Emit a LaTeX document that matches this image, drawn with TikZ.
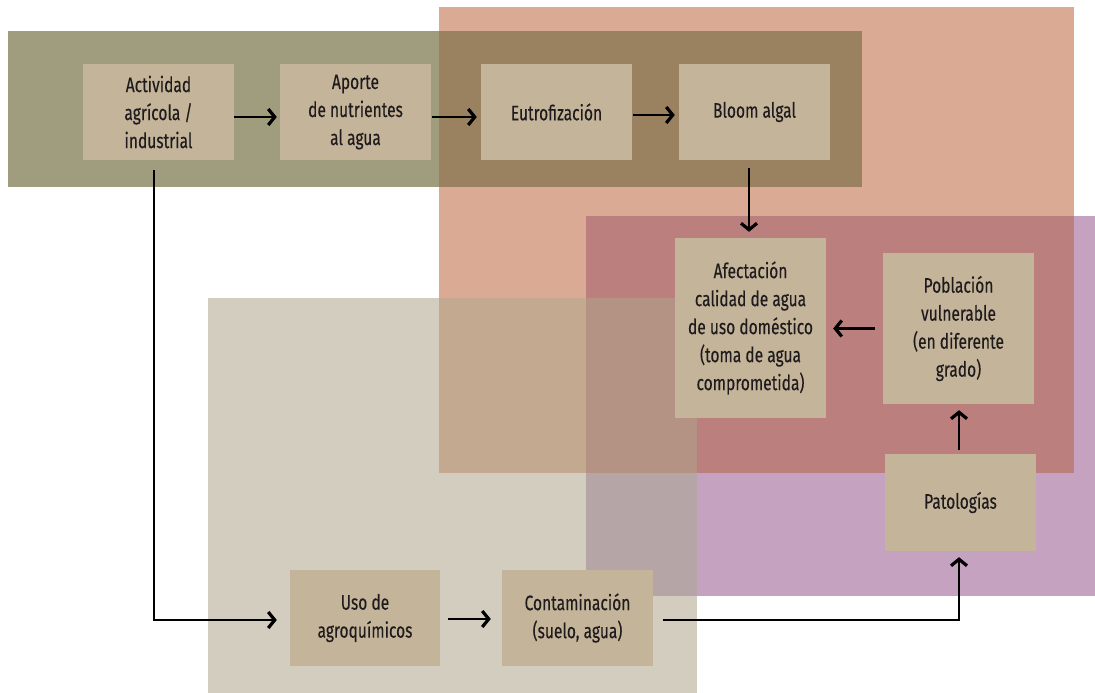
\documentclass[tikz,border=0pt]{standalone}
\usepackage{fontspec}
\setmainfont[FakeStretch=0.74,FakeBold=0.25]{Fira Sans}
\usetikzlibrary{arrows.meta}
\definecolor{olive}{HTML}{A09C7E}
\definecolor{salmon}{HTML}{DAAA94}
\definecolor{oliveSalmon}{HTML}{9A8260}
\definecolor{lilac}{HTML}{C4A2C0}
\definecolor{salmonLilac}{HTML}{BB7F7E}
\definecolor{sand}{HTML}{D3CDBF}
\definecolor{sandSalmon}{HTML}{C4A991}
\definecolor{sandTriple}{HTML}{B59384}
\definecolor{sandLilac}{HTML}{B6A5A6}
\definecolor{boxfill}{HTML}{C4B49A}
\definecolor{ink}{HTML}{1F1B1C}
\tikzset{
  stepbox/.style={fill=boxfill, draw=none, minimum width=151pt, minimum height=96pt,
    align=center, text=ink, font=\fontsize{21}{28}\selectfont, inner sep=0pt},
  flow/.style={line width=2.2pt, draw=black, -{Straight Barb[length=6.5pt,width=16pt,line width=3.2pt]}},
}
\begin{document}
\begin{tikzpicture}[x=1pt,y=-1pt]
\useasboundingbox (0,0) rectangle (1095,693);
% background regions
\fill[olive] (8,31) rectangle (862,187);
\fill[salmon] (439,7) rectangle (1074,473);
\fill[oliveSalmon] (439,31) rectangle (862,187);
\fill[lilac] (586,216) rectangle (1095,596);
\fill[salmonLilac] (586,216) rectangle (1074,473);
\fill[sand] (208,298) rectangle (697,693);
\fill[sandSalmon] (439,298) rectangle (586,473);
\fill[sandTriple] (586,298) rectangle (697,473);
\fill[sandLilac] (586,473) rectangle (697,596);
% boxes
\node[stepbox] (act) at (158.5,112) {Actividad\\agrícola /\\industrial};
\node[stepbox] (apo) at (355.5,112) {Aporte\\de nutrientes\\al agua};
\node[stepbox] (eut) at (556.5,112) {Eutrofización};
\node[stepbox] (blo) at (754.5,112) {Bloom algal};
\node[stepbox, minimum height=180pt] (afe) at (750.5,328) {Afectación\\calidad de agua\\de uso doméstico\\(toma de agua\\comprometida)};
\node[stepbox, minimum height=151pt] (pob) at (958.5,328.5) {Población\\vulnerable\\(en diferente\\grado)};
\node[stepbox, minimum height=97pt] (pat) at (960.5,502.5) {Patologías};
\node[stepbox, minimum width=150pt] (uso) at (365,618) {Uso de\\agroquímicos};
\node[stepbox] (con) at (577.5,618) {Contaminación\\(suelo, agua)};
% connectors
\draw[flow, shorten >=3pt] ([yshift=-5pt]act.east) -- ([yshift=-5pt]apo.west);
\draw[flow, shorten <=1pt, shorten >=4pt] ([yshift=-5pt]apo.east) -- ([yshift=-5pt]eut.west);
\draw[flow, shorten <=1pt, shorten >=4pt] ([yshift=-3pt]eut.east) -- ([yshift=-3pt]blo.west);
\draw[flow, shorten <=8pt, shorten >=6pt] ([xshift=-5.5pt]blo.south) -- ([xshift=-1.5pt]afe.north);
\draw[flow, shorten <=8pt, shorten >=7pt] (pob.west) -- (pob.west -| afe.east);
\draw[flow, shorten <=4pt, shorten >=6pt] ([xshift=-1.5pt]pat.north) -- ([xshift=-1.5pt]pat.north |- pob.south);
\draw[flow, shorten <=10pt, shorten >=13pt] ([xshift=-4.5pt]act.south) |- ([yshift=-2pt]uso.west);
\draw[flow, shorten <=8pt, shorten >=11pt] ([yshift=-1pt]uso.east) -- ([yshift=-1pt]con.west);
\draw[flow, shorten <=10pt, shorten >=6pt] ([yshift=-2pt]con.east) -| ([xshift=-1.5pt]pat.south);
\end{tikzpicture}
\end{document}
